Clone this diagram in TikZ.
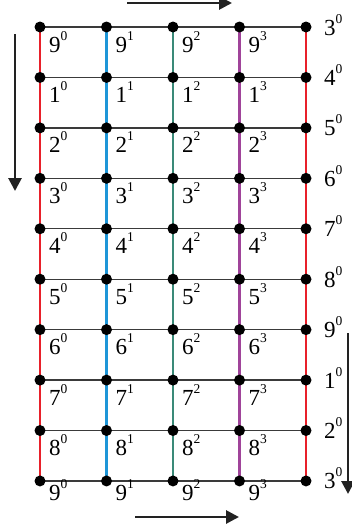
\documentclass[tikz,border=0pt]{standalone}
\usepackage{fontspec}
\setmainfont{Liberation Serif}
\usetikzlibrary{arrows.meta}
\definecolor{cred}{HTML}{E8202A}
\definecolor{cblue}{HTML}{1E96D8}
\definecolor{cteal}{HTML}{3A8A78}
\definecolor{cpurp}{HTML}{A0449A}
\definecolor{cline}{HTML}{3A3A3A}
\definecolor{carrow}{HTML}{222222}
\newcommand\lab[2]{#1\raisebox{12pt}{\fontsize{13.5}{13.5}\selectfont #2}}
\tikzset{
  dot/.style={circle,fill=black,inner sep=0pt,minimum size=11pt},
  hline/.style={draw=cline,line width=1.4pt},
  vline/.style={line width=2.2pt},
  lbl/.style={anchor=base west,inner sep=0pt,font=\fontsize{23}{23}\selectfont},
  bigarrow/.style={draw=carrow,line width=2.8pt,-{Triangle[length=13pt,width=13pt]}}
}
\begin{document}
\begin{tikzpicture}[x=1pt,y=-1pt]
\useasboundingbox (0,0) rectangle (351,530);
% nodes
\foreach \i/\x in {0/40,1/106.5,2/173,3/239.5,4/306}{
  \foreach \j in {0,...,9}{
    \coordinate (c-\i-\j) at (\x,{27+50.44*\j});
  }
}
% vertical coloured lines
\foreach \i/\c in {0/cred,1/cblue,2/cteal,3/cpurp,4/cred}{
  \draw[vline,draw=\c] (c-\i-0) -- (c-\i-9);
}
% horizontal lines
\foreach \j in {0,...,9}{
  \draw[hline] (c-0-\j) -- (c-4-\j);
}
% dots
\foreach \i in {0,...,4}{
  \foreach \j in {0,...,9}{
    \node[dot] (n-\i-\j) at (c-\i-\j) {};
  }
}
% cell labels
\foreach \i in {0,...,3}{
  \foreach \j/\d in {0/9,1/1,2/2,3/3,4/4,5/5,6/6,7/7,8/8}{
    \node[lbl] (l-\i-\j) at ([xshift=9pt,yshift=-25pt]c-\i-\j) {\lab{\d}{\i}};
  }
  \node[lbl] (b-\i) at ([xshift=9pt,yshift=-20pt]c-\i-9) {\lab{9}{\i}};
}
% right labels
\foreach \j/\d in {0/3,1/4,2/5,3/6,4/7,5/8,6/9,7/1,8/2,9/3}{
  \node[lbl] (r-\j) at ([xshift=18pt,yshift=-8pt]c-4-\j) {\lab{\d}{0}};
}
% arrows
\coordinate (ta1) at (127,3);
\coordinate (ta2) at (232,3);
\coordinate (la1) at (15,34);
\coordinate (la2) at (15,191);
\coordinate (ra1) at (348,333);
\coordinate (ra2) at (348,494);
\coordinate (ba1) at (135,517);
\coordinate (ba2) at (239,517);
\draw[bigarrow] (ta1) -- (ta2);
\draw[bigarrow] (la1) -- (la2);
\draw[bigarrow] (ra1) -- (ra2);
\draw[bigarrow] (ba1) -- (ba2);
\end{tikzpicture}
\end{document}
